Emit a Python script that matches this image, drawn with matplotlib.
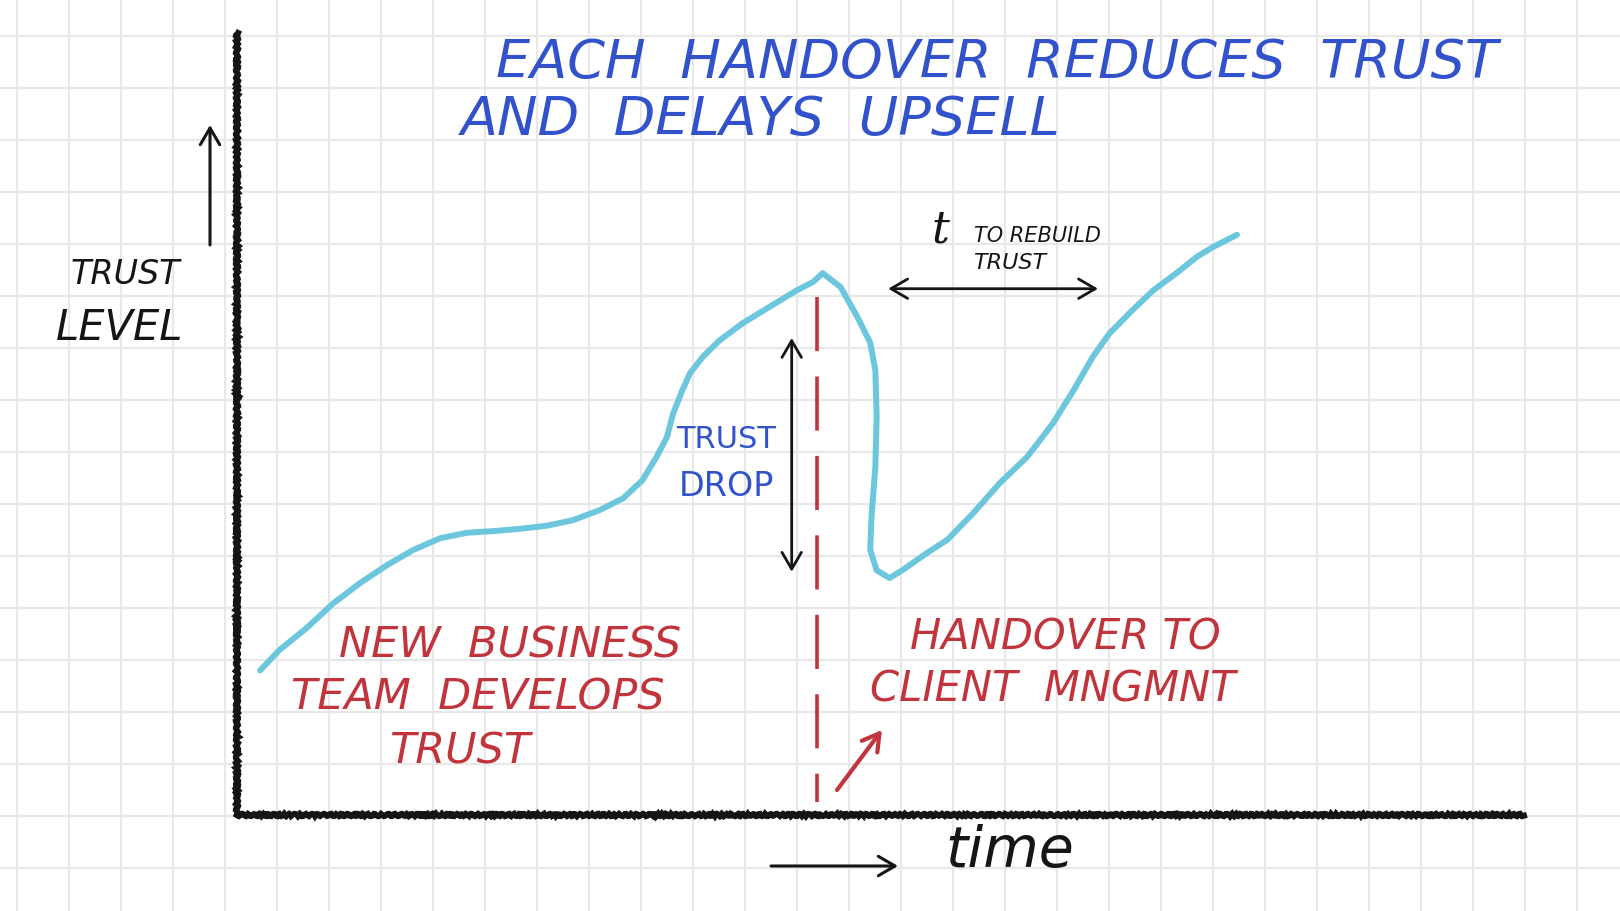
import matplotlib.pyplot as plt
import numpy as np

W, H = 1620, 911

# trust curve (time and trust both on a 0-100 scale)
time = [1.8, 3.3, 5.4, 7.5, 9.6, 11.7, 13.7, 15.8, 17.9, 19.9, 22.0, 24.1,
        26.1, 28.2, 30.0, 31.5, 32.6, 33.4, 33.9, 34.6, 35.2, 36.2, 37.5, 39.3,
        41.4, 43.5, 44.8, 45.5, 46.9, 48.2, 49.2, 49.6, 49.7, 49.6, 49.3, 49.2,
        49.7, 50.7, 51.7, 53.6, 55.2, 57.2, 59.3, 61.4, 63.4, 65.0, 66.5, 67.8,
        69.6, 71.2, 73.0, 74.6, 75.8, 77.7]
trust = [18.5, 21.1, 23.9, 27.1, 29.7, 32.0, 33.9, 35.4, 36.1, 36.3, 36.6, 37.0,
         37.7, 39.0, 40.5, 42.8, 45.8, 48.3, 51.4, 54.3, 56.5, 58.6, 60.7, 62.9,
         65.0, 67.1, 68.2, 69.3, 67.5, 63.7, 60.4, 56.9, 50.9, 44.5, 38.1, 33.9,
         31.3, 30.3, 31.3, 33.5, 35.2, 38.6, 42.5, 45.8, 50.1, 54.3, 58.6, 61.6,
         64.6, 67.1, 69.3, 71.4, 72.6, 74.2]

# the handover moment and the two annotated spans
handover_t = 45.1
dash_top, dash_bottom = 66.2, 1.7
drop_t = 43.1
drop_top, drop_bottom = 61.0, 31.1
rebuild_level = 67.3
rebuild_start, rebuild_end = 50.6, 66.9

title_lines = ["EACH  HANDOVER  REDUCES  TRUST", "AND  DELAYS  UPSELL"]
left_lines = ["NEW  BUSINESS", "TEAM  DEVELOPS", "TRUST"]
right_lines = ["HANDOVER TO", "CLIENT  MNGMNT"]

BLUE = "#3252cc"
RED = "#c1343b"
INK = "#151515"
CYAN = "#6cc6dd"

fig = plt.figure(figsize=(16.2, 9.11), dpi=100)
fig.patch.set_facecolor("white")

# graph paper background, in pixel units
bg = fig.add_axes([0, 0, 1, 1])
bg.set_xlim(0, W)
bg.set_ylim(H, 0)
bg.set_xticks(np.arange(17, W, 52))
bg.set_yticks(np.arange(36, H, 52))
bg.grid(color="#e8e8e8", lw=1.6)
bg.tick_params(length=0, labelbottom=False, labelleft=False)
for s in bg.spines.values():
    s.set_visible(False)

# the chart itself
ax = fig.add_axes([237 / W, (H - 815) / H, 1287 / W, 782 / H])
ax.set_xlim(0, 100)
ax.set_ylim(0, 100)
ax.patch.set_alpha(0)
ax.set_xticks([])
ax.set_yticks([])
ax.spines["top"].set_visible(False)
ax.spines["right"].set_visible(False)
for side in ["left", "bottom"]:
    ax.spines[side].set_linewidth(4.3)
    ax.spines[side].set_color(INK)
    ax.spines[side].set_sketch_params(1.2, 6, 2)

ax.plot(time, trust, color=CYAN, lw=4.3, solid_capstyle="round",
        solid_joinstyle="round", clip_on=False)

ax.plot([handover_t, handover_t], [dash_top, dash_bottom], color=RED, lw=2.6,
        linestyle=(0, (15, 7)), clip_on=False)

arrow = dict(arrowstyle="<->,head_length=0.6,head_width=0.35", lw=2.0,
             color=INK, shrinkA=0, shrinkB=0, mutation_scale=20)
ax.annotate("", xy=(drop_t, drop_top), xytext=(drop_t, drop_bottom),
            arrowprops=arrow)
ax.annotate("", xy=(rebuild_start, rebuild_level),
            xytext=(rebuild_end, rebuild_level), arrowprops=arrow)

# texts and loose arrows around the chart, placed in pixels
bg.text(496, 63, title_lines[0], color=BLUE, fontsize=39, va="center",
        ha="left", style="oblique")
bg.text(461, 120, title_lines[1], color=BLUE, fontsize=39, va="center",
        ha="left", style="oblique")

bg.text(125, 275, "TRUST", color=INK, fontsize=24, ha="center", va="center",
        style="oblique")
bg.text(120, 328, "LEVEL", color=INK, fontsize=30, ha="center", va="center",
        style="oblique")
bg.annotate("", xy=(210, 125), xytext=(210, 245),
            arrowprops=dict(arrowstyle="->,head_length=0.6,head_width=0.35",
                            lw=2.2, color=INK, shrinkA=0, shrinkB=0,
                            mutation_scale=20))

bg.text(941, 230, "t", color=INK, fontsize=32, ha="center", va="center",
        family="DejaVu Serif", style="italic")
bg.text(1038, 236, "TO REBUILD", color=INK, fontsize=15, ha="center",
        va="center", style="oblique")
bg.text(1010, 263, "TRUST", color=INK, fontsize=16, ha="center", va="center",
        style="oblique")

bg.text(726, 440, "TRUST", color=BLUE, fontsize=22, ha="center", va="center")
bg.text(726, 487, "DROP", color=BLUE, fontsize=24, ha="center", va="center")

for line, x, y in zip(left_lines, [510, 478, 460], [645, 698, 752]):
    bg.text(x, y, line, color=RED, fontsize=31, ha="center", va="center",
            style="oblique")
for line, x, y in zip(right_lines, [1065, 1053], [637, 690]):
    bg.text(x, y, line, color=RED, fontsize=30, ha="center", va="center",
            style="oblique")
bg.annotate("", xy=(882, 730), xytext=(837, 790),
            arrowprops=dict(arrowstyle="->,head_length=0.6,head_width=0.35",
                            lw=3, color=RED, shrinkA=0, shrinkB=0,
                            mutation_scale=20))

bg.annotate("", xy=(898, 866), xytext=(771, 866),
            arrowprops=dict(arrowstyle="->,head_length=0.6,head_width=0.35",
                            lw=2.2, color=INK, shrinkA=0, shrinkB=0,
                            mutation_scale=20))
bg.text(1010, 852, "time", color=INK, fontsize=41, ha="center", va="center",
        style="oblique")

fig.savefig("out.png", dpi=100)
